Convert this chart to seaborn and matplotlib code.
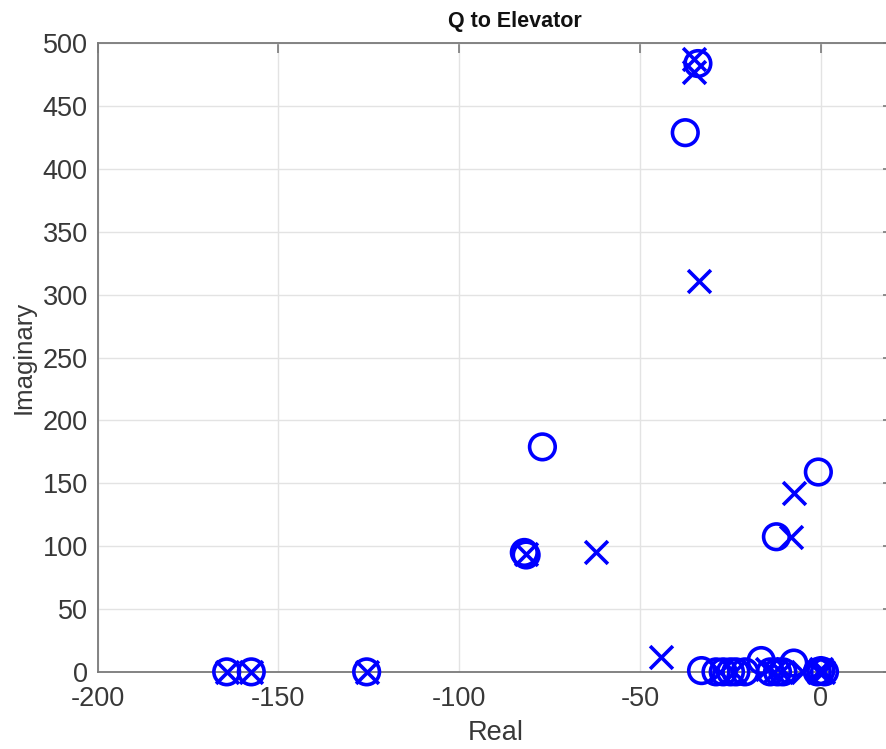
import matplotlib
matplotlib.use("Agg")
import matplotlib.pyplot as plt
import seaborn as sns
import pandas as pd

# Transfer-function zeros (real, imaginary)
zero_re = [-34, -37.5, -77, -82, -81.5, -12.3, -0.7,
           -164.3, -157.5, -125.6,
           -33, -29, -27, -25, -23.5, -21, -16.5, -14, -12, -10.5, -7.5,
           -1, 0, 1]
zero_im = [484, 429, 179, 95, 93, 107.5, 159,
           0, 0, 0,
           1, 0, 0, 0, 0, 0, 9, 0, 0, 0, 7,
           0, 1, 0]

# Transfer-function poles (real, imaginary)
pole_re = [-35, -35, -33.7, -81.6, -62.2, -7.3, -8.2, -44.2,
           -164.3, -157.5, -125.6,
           -28, -24, -15, -13, -11, -5, -0.5, 0.5, 0]
pole_im = [488, 477, 311, 94, 95, 142, 107, 12,
           0, 0, 0,
           0, 0, 2, 0, 0, 0, 0, 0, 2]

x_ticks = [-200, -150, -100, -50, 0]
y_ticks = [0, 50, 100, 150, 200, 250, 300, 350, 400, 450, 500]

zeros = pd.DataFrame({"Real": zero_re, "Imaginary": zero_im})
poles = pd.DataFrame({"Real": pole_re, "Imaginary": pole_im})

sns.set_style("whitegrid")
plt.rcParams["font.family"] = ["Liberation Sans", "DejaVu Sans"]

blue = "#0000ff"
fig = plt.figure(figsize=(8.87, 7.49), dpi=100)
ax = fig.add_axes([0.110, 0.103, 0.897, 0.839])

sns.scatterplot(data=zeros, x="Real", y="Imaginary", ax=ax, marker="o",
                s=340, facecolors="none", edgecolor=blue, linewidth=2.6,
                clip_on=False, zorder=3)
sns.scatterplot(data=poles, x="Real", y="Imaginary", ax=ax, marker="x",
                s=270, color=blue, linewidth=2.6, clip_on=False, zorder=3)

ax.set_xlim(-200, 20)
ax.set_ylim(0, 500)
ax.set_xticks(x_ticks)
ax.set_yticks(y_ticks)
ax.set_xticklabels([str(v) for v in x_ticks])
ax.set_yticklabels([str(v) for v in y_ticks])

ax.grid(True, color="#e3e3e3", linewidth=1.0)
ax.set_axisbelow(True)
for sp in ax.spines.values():
    sp.set_color("#7a7a7a")
    sp.set_linewidth(1.3)
ax.tick_params(direction="in", length=7, width=1.2, color="#7a7a7a",
               labelsize=19.5, labelcolor="#383838", top=True, right=True)
ax.tick_params(axis="x", pad=10)
ax.tick_params(axis="y", pad=7)

ax.set_xlabel("Real", fontsize=19.5, color="#383838", labelpad=6)
ax.set_ylabel("Imaginary", fontsize=18.5, color="#383838", labelpad=5)
ax.set_title("Q to Elevator", fontsize=15.5, fontweight="bold", color="#111111",
             pad=12, x=0.525)

fig.savefig("out.png", dpi=100)
